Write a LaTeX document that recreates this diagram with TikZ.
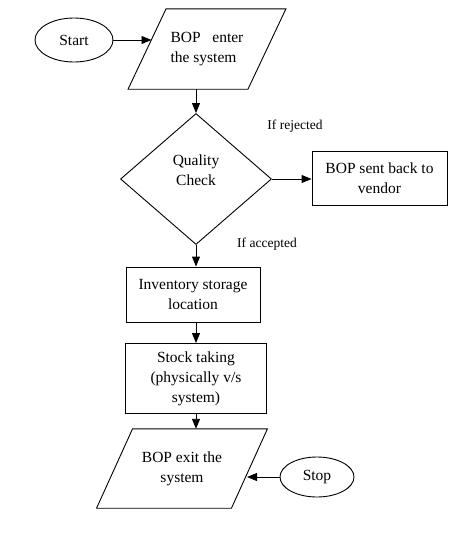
\documentclass[tikz,border=0pt]{standalone}
\usepackage{fontspec}
\setmainfont{Liberation Serif}
\usetikzlibrary{shapes.geometric,arrows.meta}
\begin{document}
\begin{tikzpicture}[x=1pt,y=-1pt,
  every node/.style={font=\fontsize{15.5}{20}\selectfont, inner sep=0pt},
  line/.style={line width=0.9pt},
  box/.style={draw, line width=0.9pt, align=center},
  term/.style={ellipse, draw, line width=0.9pt},
  conn/.style={-{Triangle[length=10pt,width=8pt]}, line width=0.9pt},
  lbl/.style={font=\fontsize{13.5}{16}\selectfont}
]
\useasboundingbox[fill=white] (0,0) rectangle (474,533);
% terminals
\node[term, minimum width=78pt, minimum height=44pt] (start) at (74,40) {Start};
\node[term, minimum width=74pt, minimum height=40pt] (stop) at (317,477) {Stop};
% input parallelogram
\node[minimum width=119.5pt, minimum height=80pt, align=left] (enter) at (207,49) {BOP\ \ \ enter\\the system};
\draw[line] ([xshift=19pt]enter.north west) -- ([xshift=19pt]enter.north east)
  -- ([xshift=-19pt]enter.south east) -- ([xshift=-19pt]enter.south west) -- cycle;
% decision
\node[diamond, draw, line width=0.9pt, minimum width=151pt, minimum height=131pt] (qc) at (196,179) {};
\node[align=center] (qct) at (196,170) {Quality\\Check};
% boxes
\node[box, minimum width=135pt, minimum height=54pt] (rej) at (379.5,178) {BOP sent back to\\vendor};
\node[box, minimum width=134pt, minimum height=55pt] (inv) at (193,294.5) {Inventory storage\\location};
\node[box, minimum width=141pt, minimum height=70pt] (stock) at (196,378.5) {Stock taking\\(physically v/s\\system)};
% output parallelogram
\node[minimum width=134.5pt, minimum height=79pt, align=center] (exit) at (182,468.5) {BOP exit the\\system};
\draw[line] ([xshift=18pt]exit.north west) -- ([xshift=18pt]exit.north east)
  -- ([xshift=-18pt]exit.south east) -- ([xshift=-18pt]exit.south west) -- cycle;
% labels
\node[lbl] (lrej) at (295,126) {If rejected};
\node[lbl] (lacc) at (267,244) {If accepted};
% connector end points on slanted edges
\coordinate (enterin) at (151.5,40);
\coordinate (exitin) at (247,477);
% connectors
\draw[conn] (start.east) -- (enterin);
\draw[conn] (enter.south -| qc.north) -- (qc.north);
\draw[conn] (qc.east) -- (qc.east -| rej.west);
\draw[conn] (qc.south) -- (qc.south |- inv.north);
\draw[conn] (inv.south -| stock.north) -- (stock.north);
\draw[conn] (stock.south) -- (stock.south |- exit.north);
\draw[conn] (stop.west) -- (exitin);
\end{tikzpicture}
\end{document}
